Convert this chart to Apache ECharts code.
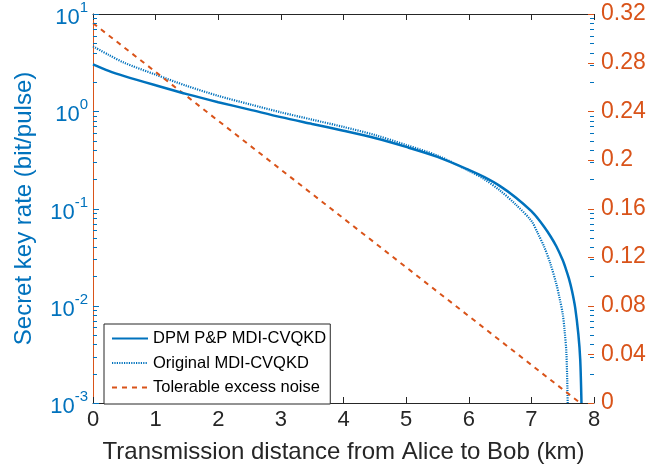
<!DOCTYPE html>
<html><head><meta charset="utf-8">
<script src="https://cdn.jsdelivr.net/npm/echarts@6/dist/echarts.min.js"></script>
<style>html,body{margin:0;padding:0;background:#fff}#c{width:650px;height:469px}</style>
</head><body><div id="c"></div>
<script>
// Distance (km) and secret key rates
const dpmX = [0,0.25,0.5,1,1.5,2,2.5,3,3.5,4,4.5,5,5.5,6,6.25,6.5,6.75,7,7.1,7.2,7.3,7.4,7.5,7.55,7.6,7.65,7.7,7.75,7.78,7.8];
const dpmY = [3.03,2.6,2.3,1.85,1.5,1.24,1.04,0.87,0.74,0.63,0.53,0.43,0.34,0.25,0.21,0.17,0.13,0.094,0.0794,0.0653,0.0525,0.0407,0.0295,0.024,0.019,0.0141,0.0095,0.0051,0.0028,0.001];
const origX = [0,0.25,0.5,1,1.5,2,2.5,3,3.5,4,4.5,5,5.5,6,6.25,6.5,6.75,7,7.1,7.2,7.3,7.4,7.45,7.5,7.53,7.56,7.58];
const origY = [4.65,3.8,3.15,2.38,1.82,1.44,1.18,0.975,0.82,0.69,0.57,0.45,0.35,0.245,0.2,0.153,0.11,0.0746,0.056,0.041,0.0275,0.0166,0.012,0.0083,0.0056,0.0032,0.001];
const noiseX = [0,7.78];
const noiseY = [0.3125,0];
const xTicks = [0,1,2,3,4,5,6,7,8];
const rightTicks = [0,0.04,0.08,0.12,0.16,0.2,0.24,0.28,0.32];
const logDecades = [-3,-2,-1,0,1];

const BLUE = '#0072BD', ORANGE = '#D95319', DARK = '#262626';
const FONT = 'Liberation Sans';
const zip = (a,b) => a.map((v,i)=>[v,b[i]]);

const chart = echarts.init(document.getElementById('c'), null, {renderer:'canvas'});
const option = {
  animation:false,
  textStyle:{fontFamily:FONT},
  grid:{left:93,right:56,top:14,bottom:62,containLabel:false},
  xAxis:[{
    type:'value',min:xTicks[0],max:xTicks[xTicks.length-1],interval:1,position:'bottom',
    axisLine:{lineStyle:{color:DARK,width:1}},
    axisTick:{inside:true,length:6,lineStyle:{color:DARK}},
    axisLabel:{color:DARK,fontSize:22,fontFamily:FONT,margin:6},
    splitLine:{show:false},
    name:'Transmission distance from Alice to Bob (km)',nameLocation:'middle',nameGap:37,
    nameTextStyle:{color:DARK,fontSize:24,fontFamily:FONT}
  },{
    type:'value',min:xTicks[0],max:xTicks[xTicks.length-1],interval:1,position:'top',
    axisLine:{lineStyle:{color:DARK,width:1}},
    axisTick:{inside:true,length:6,lineStyle:{color:DARK}},
    axisLabel:{show:false},splitLine:{show:false}
  }],
  yAxis:[{
    type:'log',logBase:10,min:Math.pow(10,logDecades[0]),max:Math.pow(10,logDecades[logDecades.length-1]),position:'left',
    axisLine:{show:true,lineStyle:{color:BLUE,width:1}},
    axisTick:{show:false},
    splitLine:{show:false},
    axisLabel:{margin:5,formatter:v=>'{b|10}{s|'+Math.round(Math.log10(v))+'}',
      rich:{b:{fontSize:22,color:BLUE,fontFamily:FONT,padding:[8,0,0,0]},s:{fontSize:15,color:BLUE,fontFamily:FONT,padding:[0,0,12,0]}}},
    name:'Secret key rate (bit/pulse)',nameLocation:'middle',nameGap:57,nameRotate:90,
    nameTextStyle:{color:BLUE,fontSize:24,fontFamily:FONT}
  },{
    type:'value',min:rightTicks[0],max:rightTicks[rightTicks.length-1],interval:0.04,position:'right',
    axisLine:{show:true,lineStyle:{color:ORANGE,width:1}},
    axisTick:{show:false},
    splitLine:{show:false},
    axisLabel:{color:ORANGE,fontSize:23,fontFamily:FONT,margin:7}
  }],
  legend:{
    left:104,top:324,orient:'vertical',itemWidth:36,itemHeight:14,itemGap:7.5,
    padding:[6,4,8,7],
    backgroundColor:'#fff',borderColor:DARK,borderWidth:1,borderRadius:0,
    itemStyle:{color:'rgba(0,0,0,0)',borderWidth:0,opacity:0},
    textStyle:{color:'#000',fontSize:16.5,fontFamily:FONT},
    data:['DPM P&P MDI-CVQKD','Original MDI-CVQKD','Tolerable excess noise']
  },
  series:[{
    name:'DPM P&P MDI-CVQKD',type:'line',xAxisIndex:0,yAxisIndex:0,showSymbol:false,symbol:'none',
    smooth:0.3,clip:true,data:zip(dpmX,dpmY),lineStyle:{color:BLUE,width:2.5,type:'solid'},itemStyle:{color:BLUE},z:3
  },{
    name:'Original MDI-CVQKD',type:'line',xAxisIndex:0,yAxisIndex:0,showSymbol:false,symbol:'none',
    smooth:0.3,clip:true,data:zip(origX,origY),lineStyle:{color:BLUE,width:2.2,type:[1.2,1.2]},itemStyle:{color:BLUE},z:2
  },{
    name:'Tolerable excess noise',type:'line',xAxisIndex:0,yAxisIndex:1,showSymbol:false,symbol:'none',
    clip:true,data:zip(noiseX,noiseY),lineStyle:{color:ORANGE,width:2,type:[5,5]},itemStyle:{color:ORANGE},z:2
  }]
};
chart.setOption(option);

// Axis ticks placed through the axes' own scales: log ticks (left + mirrored right), linear ticks on right axis
const grid = chart.getModel().getComponent('grid',0).coordinateSystem.getRect();
const els = [];
const xl = grid.x, xr = grid.x + grid.width;
const tick = (x1,x2,y,c) => els.push({type:'line',shape:{x1:x1,y1:y,x2:x2,y2:y},style:{stroke:c,lineWidth:1},z:10,silent:true});
for (let d = logDecades[0]; d <= logDecades[logDecades.length-1]; d++) {
  for (let m = 1; m <= 9; m++) {
    if (d === logDecades[logDecades.length-1] && m > 1) break;
    const y = Math.round(chart.convertToPixel({yAxisIndex:0}, m*Math.pow(10,d))) + 0.5;
    const len = m === 1 ? 6 : 4;
    tick(xl, xl+len, y, BLUE);
    tick(xr-len, xr, y, BLUE);
  }
}
rightTicks.forEach(v => {
  const y = Math.round(chart.convertToPixel({yAxisIndex:1}, v)) + 0.5;
  tick(xr-6, xr, y, ORANGE);
});
chart.setOption({graphic:els});
</script></body></html>
